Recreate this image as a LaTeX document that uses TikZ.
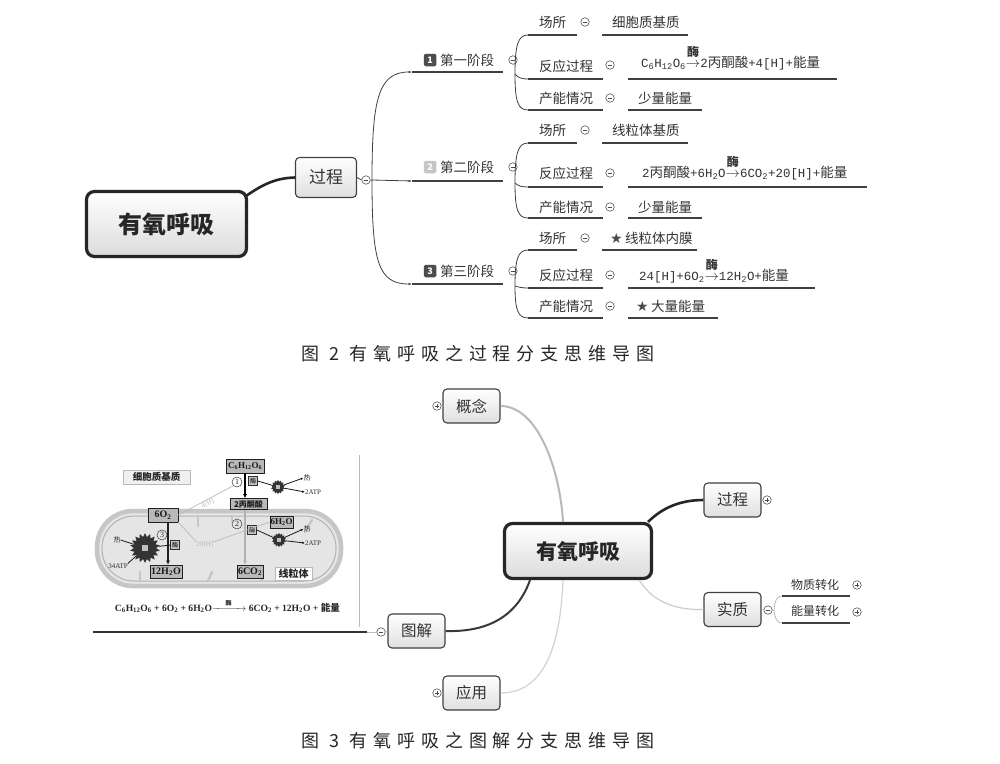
\documentclass[tikz,border=0pt]{standalone}
\usepackage{fontspec}
\usepackage{amsmath}
\setmainfont{Noto Sans CJK SC}
\newfontfamily\cjk{Noto Sans CJK SC}
\newfontfamily\mono{Liberation Mono}[Scale=0.92]
\newfontfamily\serf{Liberation Serif}
\newfontfamily\djv{DejaVu Sans}
\newfontfamily\capfont{Noto Sans CJK SC}[LetterSpace=33]
\usetikzlibrary{shapes.geometric,arrows.meta}
\newcommand\sbs[1]{\textsubscript{#1}}
\newcommand\mei{\ooalign{$\rightarrow$\cr\hidewidth\raisebox{10.5pt}{\fontsize{12}{12}\selectfont\bfseries 酶}\hidewidth\cr}}
\newcommand\zstar{{\djv\fontsize{14}{14}\selectfont\color{black!70}★}\,}
\tikzset{
  topic/.style={draw=gray!50!black, line width=1.1pt, rounded corners=4pt,
    top color=white, bottom color=gray!25, inner sep=0pt, text=black!80},
  central/.style={draw=gray!30!black, line width=3.2pt, rounded corners=8pt,
    top color=white, bottom color=gray!28, inner sep=0pt, text=black!85,
    font=\fontsize{22}{22}\selectfont\bfseries},
  lbl/.style={inner sep=0pt, anchor=west, text=black!80, font=\fontsize{13.5}{14}\selectfont},
  frm/.style={inner sep=0pt, anchor=base west, text=black!80, font=\fontsize{13.5}{14}\selectfont},
  ul/.style={line width=2pt, draw=gray!50!black},
  br/.style={line width=0.8pt, draw=black!75},
  brtip/.style={-{Latex[length=3.5pt,width=2.6pt]}},
  tog/.style={circle, draw=gray!65!black, fill=white, line width=0.6pt,
    minimum size=8.5pt, inner sep=0pt,
    path picture={\draw[gray!60!black,line width=0.7pt]
      ([xshift=-2.4pt]path picture bounding box.center) --
      ([xshift=2.4pt]path picture bounding box.center);}},
  togp/.style={circle, draw=gray!65!black, fill=white, line width=0.6pt,
    minimum size=8.5pt, inner sep=0pt,
    path picture={\draw[gray!60!black,line width=0.7pt]
      ([xshift=-2.4pt]path picture bounding box.center) --
      ([xshift=2.4pt]path picture bounding box.center)
      ([yshift=-2.4pt]path picture bounding box.center) --
      ([yshift=2.4pt]path picture bounding box.center);}},
  stagenum/.style={fill=#1, text=white, rounded corners=1.5pt, minimum size=12.5pt,
    inner sep=0pt, font=\fontsize{9}{9}\selectfont\bfseries},
  capt/.style={inner sep=0pt, text=black!85, font=\capfont\fontsize{18}{18}\selectfont},
  cbox/.style={draw=gray!25!black, fill=gray!55, line width=0.6pt, inner sep=0pt,
    text=black!90, font=\serf\bfseries\fontsize{10}{10}\selectfont},
  meibox/.style={draw=gray!35!black, fill=gray!45, line width=0.5pt, inner sep=0pt,
    minimum size=9pt, font=\fontsize{6}{6}\selectfont},
  cnum/.style={circle, draw=gray!45!black, line width=0.5pt, inner sep=0pt,
    minimum size=10pt, text=gray!30!black, font=\serf\fontsize{8}{8}\selectfont},
  blob/.style={star, star points=14, star point ratio=1.3, fill=black!80,
    inner sep=0pt, minimum size=#1},
  smallt/.style={inner sep=0pt, text=gray!35!black, font=\fontsize{7}{7}\selectfont},
  smalls/.style={inner sep=0pt, text=gray!35!black, font=\serf\fontsize{7}{7}\selectfont},
  leaf3/.style={inner sep=0pt, text=black!80, font=\fontsize{12}{12}\selectfont},
}
\begin{document}
\begin{tikzpicture}[x=1pt,y=-1pt]
\useasboundingbox (0,0) rectangle (1000,763);
\fill[white] (0,0) rectangle (1000,763);

%%%%%%%%%%%%%%%% Figure 2
\node[central, minimum width=160pt, minimum height=65pt, font=\fontsize{24}{24}\selectfont\bfseries] (m2) at (166.5,224) {有氧呼吸};
\node[topic, minimum width=61pt, minimum height=40pt, font=\fontsize{17}{17}\selectfont] (p2) at (326,177.5) {过程};
\draw[line width=2.6pt, black!85] ([xshift=-2pt,yshift=-6pt]m2.north east) .. controls (262,185) and (275,178) .. (p2.west);
\node[tog] (p2t) at (366,180) {};
\draw[br] (p2.east) -- (p2t.west);
\coordinate (p2j) at (372,180);
\coordinate (s1a) at (412,72);
\coordinate (s2a) at (412,181);
\coordinate (s3a) at (412,284);
\draw[br] (p2t.east) -- (p2j);
\draw[br,brtip] (p2j) .. controls (372,100) and (378,72) .. (s1a);
\draw[br,brtip] (p2j) -- (s2a);
\draw[br,brtip] (p2j) .. controls (372,262) and (378,284) .. (s3a);

% stage 1
\node[stagenum=black!70] (s1n) at (430,60) {1};
\node[lbl] (s1) at (440,60) {第一阶段};
\coordinate (s1b) at (503,72);
\draw[ul] (s1a) -- (s1b);
\node[tog] (s1t) at (513,60) {};
\coordinate (s1j) at (515,74);
\coordinate (r11) at (528,35);
\coordinate (r12) at (528,79);
\coordinate (r13) at (528,110);
\draw[br] (s1j) .. controls (515,45) and (518,35) .. (r11);
\draw[br] (s1j) .. controls (518,78) and (522,79) .. (r12);
\draw[br] (s1j) .. controls (515,102) and (518,110) .. (r13);
\node[lbl] (l11) at (539,22) {场所};
\draw[ul] (r11) -- (577,35);
\node[tog] (t11) at (585,22) {};
\node[lbl] (v11) at (612,22) {细胞质基质};
\draw[ul] (602,35) -- (688,35);
\node[lbl] (l12) at (539,66) {反应过程};
\draw[ul] (r12) -- (603,79);
\node[tog] (t12) at (610,65) {};
\node[frm] (v12) at (641,67) {{\mono C\sbs{6}H\sbs{12}O\sbs{6}}\mei{\mono 2}丙酮酸{\mono +4[H]+}能量};
\draw[ul] (628,79) -- (837,79);
\node[lbl] (l13) at (539,98) {产能情况};
\draw[ul] (r13) -- (603,110);
\node[tog] (t13) at (610,98) {};
\node[lbl] (v13) at (638,98) {少量能量};
\draw[ul] (628,110) -- (702,110);

% stage 2
\node[stagenum=gray!45] (s2n) at (430,167) {2};
\node[lbl] (s2) at (440,167) {第二阶段};
\coordinate (s2b) at (503,181);
\draw[ul] (s2a) -- (s2b);
\node[tog] (s2t) at (513,167) {};
\coordinate (s2j) at (515,183);
\coordinate (r21) at (528,143);
\coordinate (r22) at (528,187);
\coordinate (r23) at (528,218);
\draw[br] (s2j) .. controls (515,153) and (518,143) .. (r21);
\draw[br] (s2j) .. controls (518,186) and (522,187) .. (r22);
\draw[br] (s2j) .. controls (515,210) and (518,218) .. (r23);
\node[lbl] (l21) at (539,130) {场所};
\draw[ul] (r21) -- (577,143);
\node[tog] (t21) at (585,130) {};
\node[lbl] (v21) at (612,130) {线粒体基质};
\draw[ul] (602,143) -- (688,143);
\node[lbl] (l22) at (539,173) {反应过程};
\draw[ul] (r22) -- (603,187);
\node[tog] (t22) at (610,173) {};
\node[frm] (v22) at (642,177) {{\mono 2}丙酮酸{\mono +6H\sbs{2}O}\mei{\mono 6CO\sbs{2}+20[H]+}能量};
\draw[ul] (628,187) -- (867,187);
\node[lbl] (l23) at (539,207) {产能情况};
\draw[ul] (r23) -- (603,218);
\node[tog] (t23) at (610,207) {};
\node[lbl] (v23) at (638,207) {少量能量};
\draw[ul] (628,218) -- (702,218);

% stage 3
\node[stagenum=black!70] (s3n) at (430,271) {3};
\node[lbl] (s3) at (440,271) {第三阶段};
\coordinate (s3b) at (503,284);
\draw[ul] (s3a) -- (s3b);
\node[tog] (s3t) at (513,271) {};
\coordinate (s3j) at (515,286);
\coordinate (r31) at (528,250);
\coordinate (r32) at (528,288);
\coordinate (r33) at (528,318);
\draw[br] (s3j) .. controls (515,259) and (518,250) .. (r31);
\draw[br] (s3j) .. controls (518,287) and (522,288) .. (r32);
\draw[br] (s3j) .. controls (515,310) and (518,318) .. (r33);
\node[lbl] (l31) at (539,238) {场所};
\draw[ul] (r31) -- (577,250);
\node[tog] (t31) at (585,238) {};
\node[lbl] (v31) at (610,238) {\zstar 线粒体内膜};
\draw[ul] (602,250) -- (697,250);
\node[lbl] (l32) at (539,275) {反应过程};
\draw[ul] (r32) -- (603,288);
\node[tog] (t32) at (610,275) {};
\node[frm] (v32) at (639,280) {{\mono 24[H]+6O\sbs{2}}\mei{\mono 12H\sbs{2}O+}能量};
\draw[ul] (628,288) -- (815,288);
\node[lbl] (l33) at (539,306) {产能情况};
\draw[ul] (r33) -- (603,318);
\node[tog] (t33) at (610,306) {};
\node[lbl] (v33) at (636,306) {\zstar 大量能量};
\draw[ul] (628,318) -- (718,318);

\node[capt] (cap2) at (478,354) {图 2\hspace{10pt}有氧呼吸之过程分支思维导图};

%%%%%%%%%%%%%%%% Figure 3
\node[central, minimum width=147pt, minimum height=55pt, font=\fontsize{21}{21}\selectfont\bfseries] (m3) at (578,551) {有氧呼吸};
\node[topic, minimum width=57pt, minimum height=34pt, font=\fontsize{15.5}{16}\selectfont] (k3) at (471.5,406) {概念};
\node[topic, minimum width=57pt, minimum height=34pt, font=\fontsize{15.5}{16}\selectfont] (g3) at (732.5,500) {过程};
\node[topic, minimum width=57pt, minimum height=34pt, font=\fontsize{15.5}{16}\selectfont] (s3x) at (732.5,609.5) {实质};
\node[topic, minimum width=57pt, minimum height=34pt, font=\fontsize{15.5}{16}\selectfont] (t3) at (416.5,631) {图解};
\node[topic, minimum width=57pt, minimum height=34pt, font=\fontsize{15.5}{16}\selectfont] (y3) at (471.5,693) {应用};

\draw[line width=2pt, gray!55] (k3.east) .. controls (538,406) and (560,470) .. ([xshift=-15pt]m3.north);
\draw[line width=2.6pt, black!85] ([xshift=-5pt]m3.north east) .. controls (662,508) and (680,500) .. (g3.west);
\draw[line width=1.2pt, gray!40] ([xshift=-14pt]m3.south east) .. controls (655,605) and (680,610) .. (s3x.west);
\draw[line width=2pt, gray!45!black] ([xshift=-48pt]m3.south) .. controls (515,622) and (480,632) .. (t3.east);
\draw[line width=1.2pt, gray!35] ([xshift=-15pt]m3.south) .. controls (560,655) and (540,693) .. (y3.east);

\node[togp] (k3t) at (437,406) {};
\node[togp] (g3t) at (767,500) {};
\node[tog] (s3t2) at (768,610) {};
\node[tog] (t3t) at (381,632) {};
\node[togp] (y3t) at (437,693) {};
\draw[gray!60, line width=0.5pt] (k3t.east) -- (k3.west);
\draw[gray!60, line width=0.5pt] (g3.east) -- (g3t.west);
\draw[gray!60, line width=0.5pt] (s3x.east) -- (s3t2.west);
\draw[gray!60, line width=0.5pt] (t3t.east) -- (t3.west);
\draw[gray!60, line width=0.5pt] (y3t.east) -- (y3.west);

\coordinate (t3l) at (93,632);
\coordinate (t3m) at (367,632);
\draw[line width=2.2pt, gray!40!black] (t3l) -- (t3m);
\draw[line width=0.8pt, gray!50] (t3m) -- (t3t.west);

% 实质 sub branches
\coordinate (sj) at (774,610);
\coordinate (sa) at (782,596);
\coordinate (sb) at (782,623);
\draw[line width=0.7pt, gray!60] (s3t2.east) -- (sj);
\draw[line width=0.7pt, gray!60] (sj) .. controls (775,600) and (777,596) .. (sa);
\draw[line width=0.7pt, gray!60] (sj) .. controls (775,619) and (777,623) .. (sb);
\draw[ul] (sa) -- (850,596);
\draw[ul] (sb) -- (850,623);
\node[leaf3] (wz) at (815,585) {物质转化};
\node[leaf3] (nl) at (815,611) {能量转化};
\node[togp] (wzt) at (857,585) {};
\node[togp] (nlt) at (857,612) {};

% ---- cell respiration picture
\draw[gray!55, line width=1pt] (359,455) -- (359,627);
\draw[line width=4.5pt, draw=gray!45, fill=gray!20, rounded corners=36pt] (97,511) rectangle (341,586);
\draw[line width=1pt, draw=gray!60, rounded corners=32pt] (102,516) rectangle (336,581);
\foreach \a/\b/\c/\d in {198/516/198/526, 312/520/305/532, 140/581/140/572, 208/581/212/572, 262/581/262/573, 232/516/232/521}
  \draw[line width=2.5pt, gray!45, line cap=round] (\a,\b) -- (\c,\d);

\node[draw=gray!55, fill=gray!12, line width=0.8pt, minimum width=67pt, minimum height=14pt, inner sep=0pt, text=black!85, font=\fontsize{9.5}{10}\selectfont\bfseries] (cyto) at (156.5,477) {细胞质基质};
\node[cbox, minimum width=38pt, minimum height=14pt, font=\serf\bfseries\fontsize{9}{9}\selectfont] (glc) at (245,466) {C\sbs{6}H\sbs{12}O\sbs{6}};
\node[cbox, minimum width=37pt, minimum height=11pt, font=\fontsize{8}{8}\selectfont\bfseries] (pyr) at (248.5,504) {2丙酮酸};
\node[cbox, minimum width=30pt, minimum height=14pt] (o2) at (163,515) {6O\sbs{2}};
\node[cbox, minimum width=32pt, minimum height=13pt] (w12) at (166,571.5) {12H\sbs{2}O};
\node[cbox, minimum width=23pt, minimum height=12pt, font=\serf\bfseries\fontsize{9}{9}\selectfont] (w6) at (281.5,522) {6H\sbs{2}O};
\node[cbox, minimum width=26pt, minimum height=13pt] (co2) at (250,571.5) {6CO\sbs{2}};
\node[draw=gray!55, fill=white, line width=0.8pt, minimum width=37pt, minimum height=13pt, inner sep=0pt, font=\fontsize{10}{10}\selectfont\bfseries, text=black!85] (mito) at (293.5,573.5) {线粒体};

\draw[line width=1.6pt, black, -{Latex[length=4pt,width=4pt]}] (glc.south) -- (glc.south |- pyr.north);
\draw[line width=1.3pt, gray!60, -{Latex[length=4pt,width=4pt]}] (glc.south |- pyr.south) -- (glc.south |- co2.north);
\draw[line width=1.5pt, gray!25!black, -{Latex[length=4pt,width=4pt]}] ([xshift=5pt]o2.south) -- ([xshift=5pt]o2.south |- w12.north);

\node[cnum] (n1) at (237,482) {1};
\node[cnum] (n2) at (237,524) {2};
\node[cnum] (n3) at (162,535) {3};
\node[meibox] (e1) at (253,481) {酶};
\node[meibox] (e2) at (252,530) {酶};
\node[meibox] (e3) at (175,545) {酶};

\node[blob=14pt] (b1) at (278,487) {};
\node[fill=gray!50, minimum size=4pt, inner sep=0pt] (b1c) at (b1) {};
\node[blob=14pt] (b2) at (279,540) {};
\node[fill=gray!50, minimum size=4pt, inner sep=0pt] (b2c) at (b2) {};
\node[blob=30pt, star points=18, star point ratio=1.35] (b3) at (145,548) {};
\node[fill=gray!50, minimum size=6pt, inner sep=0pt] (b3c) at (b3) {};

\node[smallt] (q1) at (307,478) {热};
\node[smalls] (a1) at (313,492) {2ATP};
\node[smallt] (q2) at (307,529) {热};
\node[smalls] (a2) at (313,543) {2ATP};
\node[smallt] (q3) at (117,540) {热};
\node[smalls] (a3) at (118,566) {34ATP};

\draw[line width=0.8pt, gray!20!black] (e1.east) -- (b1);
\draw[line width=0.8pt, gray!20!black, -{Latex[length=2.5pt,width=2.5pt]}] (b1) -- (q1.west);
\draw[line width=0.8pt, gray!20!black, -{Latex[length=2.5pt,width=2.5pt]}] (b1) -- (a1.west);
\draw[line width=0.8pt, gray!20!black] (e2.east) -- (b2);
\draw[line width=0.8pt, gray!20!black, -{Latex[length=2.5pt,width=2.5pt]}] (b2) -- (q2.west);
\draw[line width=0.8pt, gray!20!black, -{Latex[length=2.5pt,width=2.5pt]}] (b2) -- (a2.west);
\draw[line width=0.8pt, gray!20!black] (e3.west) -- (b3);
\draw[line width=0.8pt, gray!20!black] (b3) -- (q3.east);
\draw[line width=0.8pt, gray!20!black] (b3) -- (a3.north east);

\draw[gray!55, line width=0.7pt] (n1.south west) -- node[sloped, below=0.5pt, smalls, text=gray!55] (h4) {4[H]} (o2.east);
\node[smalls, text=gray!55] (h20) at (205,545) {20[H]};
\draw[gray!55, line width=0.7pt] (o2.south east) -- (h20.north west);
\draw[gray!55, line width=0.7pt] (h20.north east) -- (w6.west);

\node[inner sep=0pt, font=\serf\bfseries\fontsize{9.6}{10}\selectfont, text=black!85] (eq) at (227.5,606) {C\sbs{6}H\sbs{12}O\sbs{6} + 6O\sbs{2} + 6H\sbs{2}O$\xrightarrow{\makebox[28pt]{\cjk\fontsize{6}{6}\selectfont 酶}}$\ 6CO\sbs{2} + 12H\sbs{2}O + {\cjk 能量}};

\node[capt] (cap3) at (478,741) {图 3\hspace{10pt}有氧呼吸之图解分支思维导图};
\end{tikzpicture}
\end{document}
